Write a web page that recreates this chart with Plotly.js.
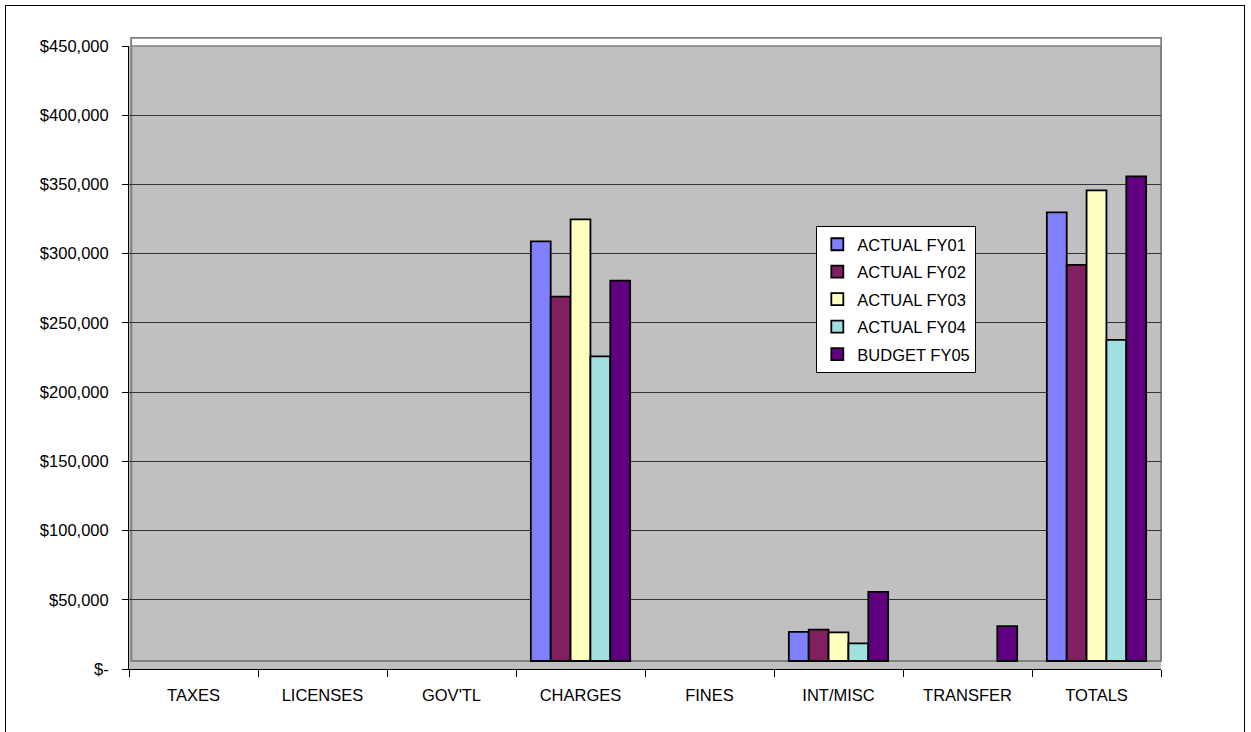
<!DOCTYPE html>
<html>
<head>
<meta charset="utf-8">
<script src="https://cdn.plot.ly/plotly-3.0.1.min.js"></script>
<style>
  html, body { margin: 0; padding: 0; background: #fff; overflow: hidden; }
  #chart { position: absolute; left: 0; top: 0; width: 1251px; height: 732px; }
  #frame { position: absolute; left: 5px; top: 5px; width: 1238px; height: 760px;
           border: 1.5px solid #000; pointer-events: none; }
</style>
</head>
<body>
<div id="chart"></div>
<div id="frame"></div>
<script>
// ---- data ----
const categories = ["TAXES", "LICENSES", "GOV'TL", "CHARGES", "FINES", "INT/MISC", "TRANSFER", "TOTALS"];
const seriesNames = ["ACTUAL FY01", "ACTUAL FY02", "ACTUAL FY03", "ACTUAL FY04", "BUDGET FY05"];
const actualFY01 = [null, null, null, 303100, null, 21100, null, 324000];
const actualFY02 = [null, null, null, 263200, null, 22600, null, 286100];
const actualFY03 = [null, null, null, 319000, null, 20700, null, 339900];
const actualFY04 = [null, null, null, 220000, null, 12800, null, 232000];
const budgetFY05 = [null, null, null, 274800, null, 50000, 25200, 350000];
const yTickVals = [0, 50000, 100000, 150000, 200000, 250000, 300000, 350000, 400000, 450000];
const yTickText = ["$-", "$50,000", "$100,000", "$150,000", "$200,000", "$250,000", "$300,000", "$350,000", "$400,000", "$450,000"];

// ---- style ----
const colors = ["#8080FF", "#802060", "#FFFFC0", "#A0E0E0", "#600080"];
const seriesValues = [actualFY01, actualFY02, actualFY03, actualFY04, budgetFY05];
const FONT = "Arial, 'Liberation Sans', sans-serif";

const traces = seriesValues.map((vals, i) => ({
  type: "bar",
  name: seriesNames[i],
  x: categories,
  y: vals,
  yaxis: "y2",
  legendgroup: "g" + i,
  marker: { color: colors[i], line: { color: "#000", width: 1.8 } },
  hovertemplate: "%{x}<br>" + seriesNames[i] + ": $%{y:,.0f}<extra></extra>"
}));
// invisible helper trace so the front value axis (ticks, labels, gridlines) is drawn
traces.unshift({
  type: "scatter", mode: "markers", x: categories, y: categories.map(() => null),
  yaxis: "y", showlegend: false, hoverinfo: "skip", marker: { opacity: 0 }
});

// plot area geometry (pixels) used to set the depth offset of the 3D floor
const plotH = 732 - 46 - 63;      // height of the value axis
const depthPx = 8;                // columns stand on the back floor, 8px above the front axis
const yMax = 450000;
const shift = depthPx * yMax / plotH;

const layout = {
  width: 1251, height: 732,
  margin: { l: 129, r: 90, t: 46, b: 63, pad: 0 },
  paper_bgcolor: "#fff",
  plot_bgcolor: "#C0C0C0",
  font: { family: FONT, size: 17, color: "#000" },
  barmode: "group",
  bargap: 0.23,
  bargroupgap: 0,
  showlegend: true,
  legend: {
    x: 0.666, y: 0.711, xanchor: "left", yanchor: "top",
    bgcolor: "#fff", bordercolor: "#000", borderwidth: 1,
    font: { family: FONT, size: 16.5, color: "#000" },
    itemwidth: 30, tracegroupgap: 3, traceorder: "grouped"
  },
  xaxis: {
    type: "category",
    showline: true, linecolor: "#000", linewidth: 1,
    ticks: "outside", ticklen: 7, tickcolor: "#000", tickwidth: 1,
    tickson: "boundaries",
    showgrid: false, zeroline: false,
    tickfont: { family: FONT, size: 16.5, color: "#000" },
    ticklabelstandoff: 11,
    fixedrange: true
  },
  yaxis: {
    range: [0, yMax], autorange: false,
    tickvals: yTickVals, ticktext: yTickText,
    showline: true, linecolor: "#000", linewidth: 1,
    ticks: "outside", ticklen: 6, tickcolor: "#000", tickwidth: 1,
    showgrid: true, gridcolor: "#333", gridwidth: 1,
    zeroline: false,
    tickfont: { family: FONT, size: 16.5, color: "#000" },
    ticklabelstandoff: 10,
    fixedrange: true
  },
  yaxis2: {
    overlaying: "y",
    range: [-shift, yMax - shift], autorange: false,
    visible: false, showgrid: false, zeroline: false,
    fixedrange: true
  },
  shapes: [
    // back wall outline
    { type: "rect", xref: "paper", yref: "paper", layer: "below",
      x0: 2.3 / 1032, x1: 1, y0: depthPx / plotH, y1: 1 + depthPx / plotH,
      line: { color: "#808080", width: 2 }, fillcolor: "rgba(0,0,0,0)" },
    // top strip of the wall (white face above the top gridline)
    { type: "rect", xref: "paper", yref: "paper", layer: "above",
      x0: 2.3 / 1032, x1: 1, y0: 1, y1: 1 + depthPx / plotH,
      line: { color: "#808080", width: 1.5 }, fillcolor: "#fff" }
  ]
};

Plotly.newPlot("chart", traces, layout, { displayModeBar: false, responsive: false });
</script>
</body>
</html>
